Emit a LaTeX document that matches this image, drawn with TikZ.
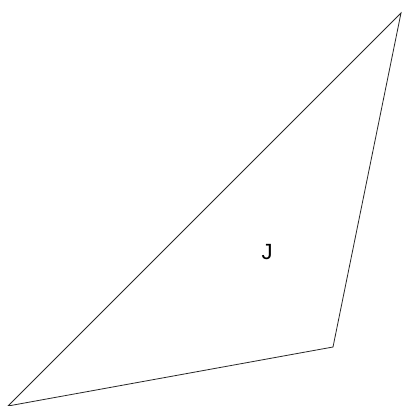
\documentclass[tikz,border=0pt]{standalone}
\usepackage{fontspec}
\setmainfont{Liberation Sans}
\begin{document}
\begin{tikzpicture}[x=1pt,y=-1pt]
\tikzstyle{cote} = [line width=0.8pt,color=black!85] %couleur des aretes
\useasboundingbox (0,0) rectangle (402,406);

%coordonnées des sommets
\coordinate (A) at (401,13);
\coordinate (B) at (8,406);
\coordinate (C) at (333,347);
\draw(267,252)node[font=\fontsize{22}{26}\selectfont](J){J};

%tracer les arêtes
\draw[cote] (A)--(B)--(C)--cycle;
\end{tikzpicture}
\end{document}
